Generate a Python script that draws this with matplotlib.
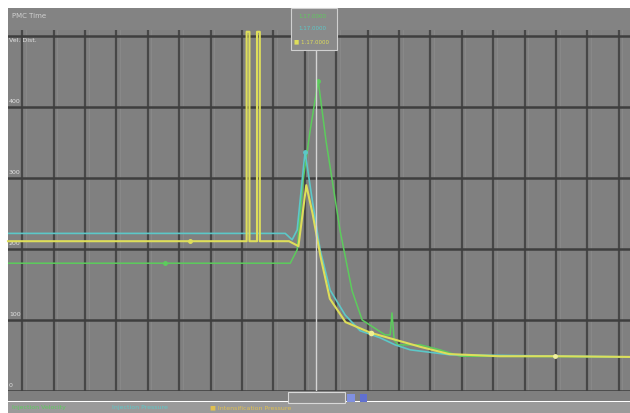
import matplotlib
matplotlib.use("Agg")
import matplotlib.pyplot as plt
from matplotlib.patches import Rectangle

# ---- data (time in grid divisions, value in display units) ----
yellow_t = [-0.45, 7.15, 7.15, 7.24, 7.24, 7.48, 7.48, 7.57, 7.57, 8.5, 8.8, 9.05, 9.25, 9.5, 9.8, 10.3, 11.1, 11.9, 12.7, 13.6, 15.2, 17.0, 19.4]
yellow_v = [211, 211, 506, 506, 211, 211, 506, 506, 211, 211, 204, 290, 250, 190, 130, 97, 82, 72, 62, 52, 49, 49, 48]

cyan_t = [-0.45, 8.38, 8.6, 8.76, 9.01, 9.24, 9.49, 9.81, 10.29, 10.76, 11.4, 11.88, 12.36, 13.63, 19.4]
cyan_v = [222, 222, 213, 227, 337, 269, 199, 142, 107, 85, 75, 65, 58, 51, 48]

green_t = [-0.45, 8.54, 8.76, 8.95, 9.17, 9.43, 9.68, 10.13, 10.51, 10.83, 11.56, 11.72, 11.78, 11.85, 11.97, 12.68, 13.31, 13.95, 19.4]
green_v = [180, 180, 199, 297, 366, 437, 352, 225, 141, 100, 79, 79, 110, 72, 65, 65, 58, 49, 48]

y_ticks = [0, 100, 200, 300, 400]
y_tick_labels = ["0", "100", "200", "300", "400"]
cursor_t = 9.36

W, H = 630, 413
fig = plt.figure(figsize=(W / 100, H / 100), dpi=100)
fig.patch.set_facecolor("white")

def fx(px):
    return px / W

def fy(py):
    return 1 - py / H

def fig_rect(x0, y0, x1, y1, z, **kw):
    r = Rectangle((fx(x0), fy(y1)), fx(x1 - x0), (y1 - y0) / H,
                  transform=fig.transFigure, zorder=z, **kw)
    fig.patches.append(r)
    return r

# gray panel, header strip, bottom strip (behind axes)
fig_rect(8, 8, 630, 401, -2, facecolor="#7f7f7f", edgecolor="none")
fig_rect(8, 8, 630, 30, -1, facecolor="#838383", edgecolor="none")
fig_rect(8, 402, 630, 413, -1, facecolor="#9a9a9a", edgecolor="none")
fig.text(fx(12), fy(16), "PMC Time", fontsize=5, color="#d0d0d0", va="center", ha="left")

ax = fig.add_axes([fx(8), fy(391), fx(622), (391 - 30) / H])
ax.set_facecolor("#808080")
ax.set_xlim(-0.45, 19.36)
ax.set_ylim(0, 508.5)
for s in ax.spines.values():
    s.set_visible(False)
ax.set_xticks([])
ax.set_yticks([])

for k in range(0, 20):
    ax.axvline(k, color="#474747", lw=1.6, zorder=1)
    ax.axvline(k + 0.12, color="#8a8a8a", lw=0.6, zorder=1)
for v in [0, 100, 200, 300, 400, 500]:
    ax.axhline(v, color="#3e3e3e", lw=1.8, zorder=1)

for v, lab in zip(y_ticks, y_tick_labels):
    ax.text(-0.42, v + 4, lab, fontsize=4.5, color="#e0e0e0", ha="left", va="bottom", zorder=2)
ax.text(-0.42, 497, "Vel. Dist.", fontsize=4.5, color="#e0e0e0", ha="left", va="top", zorder=2)

ax.plot(green_t, green_v, color="#5ccc5c", lw=1.1, zorder=3)
ax.plot(cyan_t, cyan_v, color="#5cc8c8", lw=1.2, zorder=4)
ax.plot(yellow_t, yellow_v, color="#dede5a", lw=1.5, zorder=5, clip_on=False)

# markers
ax.plot([4.55], [180], "o", color="#5ccc5c", ms=2.5, zorder=6)
ax.plot([9.43], [437], "o", color="#5ccc5c", ms=2.5, zorder=6)
ax.plot([5.35], [211], "o", color="#dede5a", ms=2.5, zorder=6)
ax.plot([11.1], [82], "o", color="#f0f090", ms=3, zorder=6)
ax.plot([16.97], [49], "o", color="#f0f0a0", ms=2.5, zorder=6)
ax.plot([9.01], [337], "o", color="#5cc8c8", ms=2.5, zorder=6)

ax.axvline(cursor_t, color="#d4d4d4", lw=1.0, zorder=7)

# cursor legend box
fig_rect(291, 8, 337, 50, 10, facecolor="#8a8a8a", edgecolor="#d0d0d0", lw=0.8)
fig.text(fx(298), fy(16), "1.17.0000", fontsize=4, color="#5ccc5c", zorder=11, va="center")
fig.text(fx(298), fy(29), "1.17.0000", fontsize=4, color="#5cc8c8", zorder=11, va="center")
fig.text(fx(294), fy(42), "\u25a0 1.17.0000", fontsize=4, color="#dede5a", zorder=11, va="center")

# bottom scroll bar
fig_rect(288, 392, 345, 403, 10, facecolor="#8c8c8c", edgecolor="#d8d8d8", lw=0.8)
fig_rect(347, 394, 355, 402, 10, facecolor="#8090e0", edgecolor="none")
fig_rect(360, 394, 367, 402, 10, facecolor="#6070d0", edgecolor="none")

# bottom legend
fig.text(fx(12), fy(408), "Injection Velocity", fontsize=4.5, color="#5ccc5c", va="center")
fig.text(fx(112), fy(408), "Injection Pressure", fontsize=4.5, color="#5cc8c8", va="center")
fig.text(fx(210), fy(408), "\u25a0 Intensification Pressure", fontsize=4.5, color="#e0c050", va="center")

fig.savefig("out.png", dpi=100, facecolor=fig.get_facecolor())
